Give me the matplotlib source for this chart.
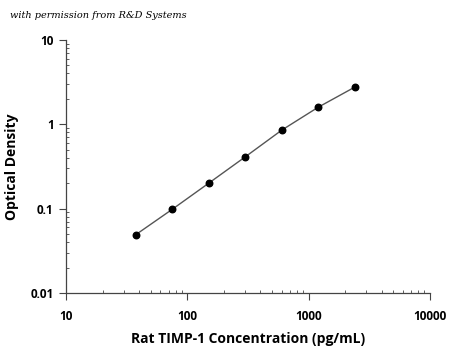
import matplotlib
matplotlib.use("Agg")
import matplotlib.pyplot as plt
import matplotlib.ticker as mtick

# --- Standard curve data ---
conc = [37.5, 75, 150, 300, 600, 1200, 2400]
od = [0.049, 0.098, 0.20, 0.41, 0.85, 1.59, 2.75]

x_ticks = [10, 100, 1000, 10000]
x_labels = ["10", "100", "1000", "10000"]
y_ticks = [0.01, 0.1, 1, 10]
y_labels = ["0.01", "0.1", "1", "10"]

plt.rcParams["font.family"] = ["Open Sans", "DejaVu Sans"]

fig = plt.figure(figsize=(4.5, 3.5), dpi=100)
ax = fig.add_axes([0.147, 0.163, 0.808, 0.723])

ax.plot(conc, od, color="#555555", linewidth=1.0, zorder=2)
ax.scatter(conc, od, s=22, color="black", zorder=3)

ax.set_xscale("log")
ax.set_yscale("log")
ax.set_xlim(10, 10000)
ax.set_ylim(0.01, 10)

ax.set_xticks(x_ticks)
ax.set_xticklabels(x_labels)
ax.set_yticks(y_ticks)
ax.set_yticklabels(y_labels)
ax.xaxis.set_minor_locator(mtick.LogLocator(base=10, subs=range(2, 10)))
ax.yaxis.set_minor_locator(mtick.LogLocator(base=10, subs=range(2, 10)))
ax.xaxis.set_minor_formatter(mtick.NullFormatter())
ax.yaxis.set_minor_formatter(mtick.NullFormatter())

for side in ["top", "right"]:
    ax.spines[side].set_visible(False)
for side in ["left", "bottom"]:
    ax.spines[side].set_color("#444444")
    ax.spines[side].set_linewidth(0.9)

ax.tick_params(which="major", direction="out", length=5, width=0.8, color="#444444",
               labelsize=8.5)
ax.tick_params(axis="x", which="major", pad=7)
ax.tick_params(axis="y", which="major", pad=4)
ax.tick_params(which="minor", direction="in", length=2, width=0.6, color="#444444")
for lbl in ax.get_xticklabels() + ax.get_yticklabels():
    lbl.set_fontweight("bold")

ax.set_xlabel("Rat TIMP-1 Concentration (pg/mL)", fontsize=10, fontweight="bold", labelpad=7)
ax.set_ylabel("Optical Density", fontsize=10, fontweight="bold", labelpad=8)

fig.text(0.022, 0.955, "with permission from R&D Systems", fontsize=7,
         style="italic", family="DejaVu Serif", color="black", va="center")

plt.savefig("out.png", dpi=100)
plt.close()
